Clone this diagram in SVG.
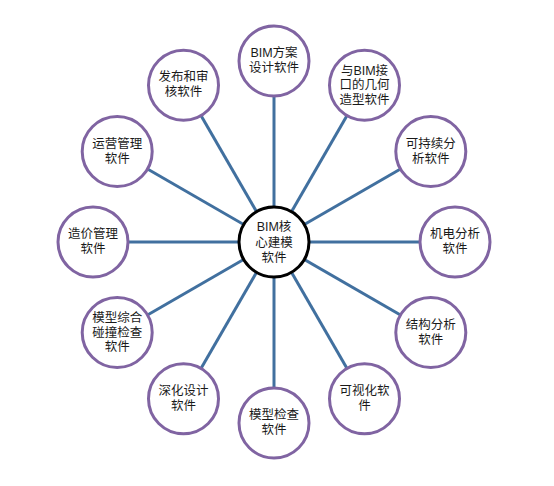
<svg xmlns="http://www.w3.org/2000/svg" width="554" height="486" viewBox="0 0 554 486">
<style>
.edge{stroke:#41709f;stroke-width:3;fill:none}
.node circle{fill:#fff;stroke:#8064a2;stroke-width:3}
#center circle{stroke:#000}
text{font-family:"Liberation Sans","Noto Sans CJK SC",sans-serif;font-size:12.5px;fill:#1a1a1a;text-anchor:middle;dominant-baseline:central}
</style>
<rect width="554" height="486" fill="#fff"/>
<g id="connectors">
<line class="edge" x1="274" y1="242" x2="274" y2="61"/>
<line class="edge" x1="274" y1="242" x2="364.5" y2="85.2"/>
<line class="edge" x1="274" y1="242" x2="430.8" y2="151.5"/>
<line class="edge" x1="274" y1="242" x2="455" y2="242"/>
<line class="edge" x1="274" y1="242" x2="430.8" y2="332.5"/>
<line class="edge" x1="274" y1="242" x2="364.5" y2="398.8"/>
<line class="edge" x1="274" y1="242" x2="274" y2="423"/>
<line class="edge" x1="274" y1="242" x2="183.5" y2="398.8"/>
<line class="edge" x1="274" y1="242" x2="117.2" y2="332.5"/>
<line class="edge" x1="274" y1="242" x2="93" y2="242"/>
<line class="edge" x1="274" y1="242" x2="117.2" y2="151.5"/>
<line class="edge" x1="274" y1="242" x2="183.5" y2="85.2"/>
</g>
<g id="center" class="node"><circle cx="274" cy="242" r="35"/><text x="274" y="227">BIM核</text><text x="274" y="242.5">心建模</text><text x="274" y="258">软件</text></g>
<g id="n0" class="node"><circle cx="274" cy="61" r="35"/><text x="274" y="53">BIM方案</text><text x="274" y="68">设计软件</text></g>
<g id="n1" class="node"><circle cx="364.5" cy="85.2" r="35"/><text x="364.5" y="70.5">与BIM接</text><text x="364.5" y="85">口的几何</text><text x="364.5" y="99.5">造型软件</text></g>
<g id="n2" class="node"><circle cx="430.8" cy="151.5" r="35"/><text x="430.8" y="143.5">可持续分</text><text x="430.8" y="158.5">析软件</text></g>
<g id="n3" class="node"><circle cx="455" cy="242" r="35"/><text x="455" y="234">机电分析</text><text x="455" y="249">软件</text></g>
<g id="n4" class="node"><circle cx="430.8" cy="332.5" r="35"/><text x="430.8" y="324.5">结构分析</text><text x="430.8" y="339.5">软件</text></g>
<g id="n5" class="node"><circle cx="364.5" cy="398.8" r="35"/><text x="364.5" y="390.8">可视化软</text><text x="364.5" y="405.8">件</text></g>
<g id="n6" class="node"><circle cx="274" cy="423" r="35"/><text x="274" y="415">模型检查</text><text x="274" y="430">软件</text></g>
<g id="n7" class="node"><circle cx="183.5" cy="398.8" r="35"/><text x="183.5" y="390.8">深化设计</text><text x="183.5" y="405.8">软件</text></g>
<g id="n8" class="node"><circle cx="117.2" cy="332.5" r="35"/><text x="117.2" y="318">模型综合</text><text x="117.2" y="332.5">碰撞检查</text><text x="117.2" y="347">软件</text></g>
<g id="n9" class="node"><circle cx="93" cy="242" r="35"/><text x="93" y="234">造价管理</text><text x="93" y="249">软件</text></g>
<g id="n10" class="node"><circle cx="117.2" cy="151.5" r="35"/><text x="117.2" y="143.5">运营管理</text><text x="117.2" y="158.5">软件</text></g>
<g id="n11" class="node"><circle cx="183.5" cy="85.2" r="35"/><text x="183.5" y="77.2">发布和审</text><text x="183.5" y="92.2">核软件</text></g>
</svg>
